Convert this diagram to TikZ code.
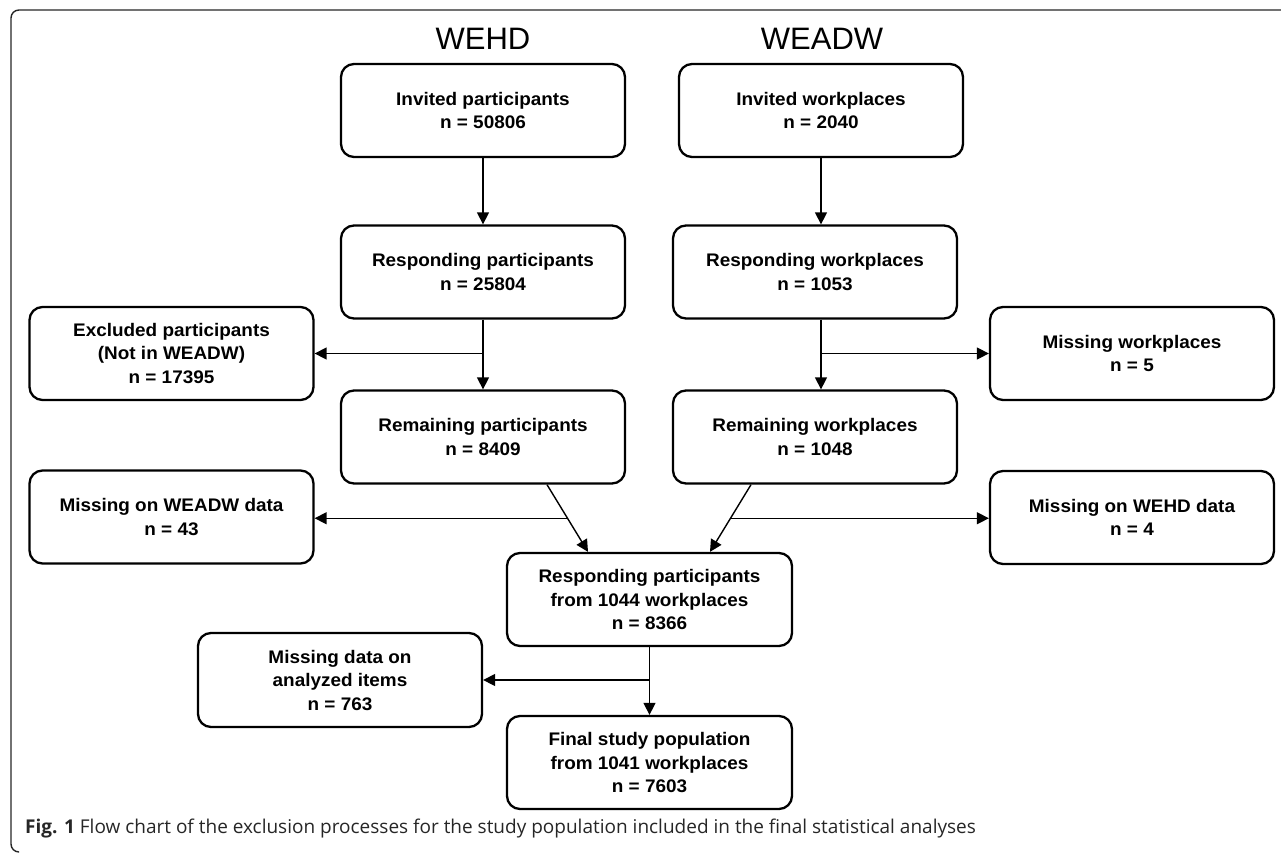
\documentclass[tikz,border=0pt]{standalone}
\usepackage{fontspec}
\setmainfont{Liberation Sans}
\newfontfamily\boxfont[FakeStretch=1.04]{Liberation Sans}
\newfontfamily\capfont{Open Sans}
\usetikzlibrary{arrows.meta,calc}
\begin{document}
\begin{tikzpicture}[x=1pt,y=-1pt,
  box/.style={draw,line width=2.3pt,rounded corners=13pt,minimum width=284pt,minimum height=93pt,
              align=center,inner sep=0pt,font=\boxfont\fontsize{18.2}{23.5}\selectfont\bfseries},
  arr/.style={line width=1.4pt,-{Triangle[length=12pt,width=12pt]}},
  ttl/.style={font=\fontsize{31}{36}\selectfont}]
\useasboundingbox (0,0) rectangle (1281,854);
% frame
\draw[line width=1.4pt,rounded corners=8pt,black!85] (1281,10) -- (11,10) -- (11,852) -- (18,852);
% titles
\node[ttl] (tWEHD) at (483,39) {WEHD};
\node[ttl] (tWEADW) at (822,39) {WEADW};
% left column
\node[box] (inP) at (483,110.5) {Invited participants\\n = 50806};
\node[box] (resP) at (483,272) {Responding participants\\n = 25804};
\node[box] (remP) at (483,437) {Remaining participants\\n = 8409};
\node[box] (excl) at (171.5,353.5) {Excluded participants\\(Not in WEADW)\\n = 17395};
\node[box] (mWEADW) at (171.5,517) {Missing on WEADW data\\n = 43};
% right column
\node[box] (inW) at (821,110.5) {Invited workplaces\\n = 2040};
\node[box] (resW) at (815,272) {Responding workplaces\\n = 1053};
\node[box] (remW) at (815,437) {Remaining workplaces\\n = 1048};
\node[box] (mW) at (1132,353.5) {Missing workplaces\\n = 5};
\node[box] (mWEHD) at (1132,517.5) {Missing on WEHD data\\n = 4};
% bottom
\node[box,minimum width=285pt] (r1044) at (649.5,599.5) {Responding participants\\from 1044 workplaces\\n = 8366};
\node[box,minimum height=94pt] (mItems) at (340,680) {Missing data on\\analyzed items\\n = 763};
\node[box,minimum width=285pt] (final) at (649.5,762.5) {Final study population\\from 1041 workplaces\\n = 7603};
% connectors left
\draw[arr] (inP) -- (resP);
\draw[arr] (resP) -- (remP);
\coordinate (bP) at (483,353.5);
\draw[arr] (bP) -- (excl.east);
% connectors right
\coordinate (wx) at (821,0);
\draw[arr] (inW.south -| wx) -- (resW.north -| wx);
\draw[arr] (resW.south -| wx) -- (remW.north -| wx);
\coordinate (bW) at (821,353.5);
\draw[arr] (bW) -- (mW.west);
% diagonals
\coordinate (dLs) at (547,0);
\coordinate (dLe) at (588,0);
\draw[arr] (remP.south -| dLs) -- (r1044.north -| dLe) coordinate[pos=0.5] (bL);
\draw[arr] (bL) -- (bL -| mWEADW.east);
\coordinate (dRs) at (751,0);
\coordinate (dRe) at (710,0);
\draw[arr] (remW.south -| dRs) -- (r1044.north -| dRe) coordinate[pos=0.5] (bR);
\draw[arr] (bR) -- (bR -| mWEHD.west);
% bottom connectors
\draw[arr] (r1044) -- (final);
\coordinate (bB) at (649.5,680);
\draw[arr] (bB) -- (mItems.east);
% caption
\node[anchor=base west,inner sep=0pt,text=black!85,font=\capfont\fontsize{19}{22}\selectfont] (cap) at (25,833)
  {{\bfseries Fig. 1} Flow chart of the exclusion processes for the study population included in the final statistical analyses};
\end{tikzpicture}
\end{document}
